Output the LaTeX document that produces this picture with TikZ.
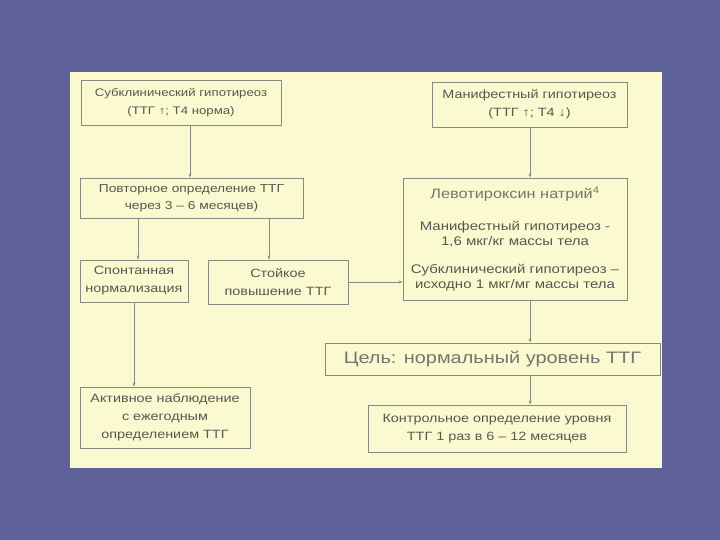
\documentclass[tikz,border=0pt]{standalone}
\usepackage{fontspec}
\setmainfont[FakeStretch=1.2]{Liberation Sans}
\usetikzlibrary{positioning, arrows.meta}

\definecolor{slide}{HTML}{5F6199}
\definecolor{paper}{HTML}{FBF9D0}
\definecolor{ink}{HTML}{58584F}
\definecolor{inklight}{HTML}{75756C}
\definecolor{wire}{HTML}{8A8A82}

\begin{document}
\begin{tikzpicture}[
    x=1pt, y=-1pt,
    box/.style={draw=wire, line width=0.9pt, fill=paper, text=ink, align=center,
        inner sep=2pt, font=\fontsize{12}{18}\selectfont},
    arr/.style={draw=wire, line width=0.9pt, -{Stealth[length=4pt, width=3pt]}}
]
    % Slide background and panel
    \fill[slide] (0,0) rectangle (720,540);
    \fill[paper] (70,72) rectangle (662,468);

    % Top row
    \node[box, minimum width=200pt, minimum height=45pt,
        font=\fontsize{11}{18}\selectfont] (subclin) at (181,102.5)
        {Субклинический гипотиреоз\\(ТТГ ↑; Т4 норма)};
    \node[box, minimum width=195pt, minimum height=45pt] (manif) at (529.5,104.5)
        {Манифестный гипотиреоз\\(ТТГ ↑; Т4 ↓)};

    % Second row
    \node[box, minimum width=223pt, minimum height=40pt,
        font=\fontsize{11.5}{17}\selectfont] (repeat) at (191.5,198)
        {Повторное определение ТТГ\\через 3 – 6 месяцев)};
    \node[box, minimum width=224pt, minimum height=122pt,
        font=\fontsize{12.5}{15.5}\selectfont] (levo) at (515,239)
        {{\fontsize{13.6}{15}\selectfont\color{inklight}Левотироксин натрий\textsuperscript{4}}\\[16pt]
         Манифестный гипотиреоз -\\1,6 мкг/кг массы тела\\[12pt]
         Субклинический гипотиреоз –\\исходно 1 мкг/мг массы тела};

    % Third row
    \node[box, minimum width=108pt, minimum height=42pt] (spont) at (134,281)
        {Спонтанная\\нормализация};
    \node[box, minimum width=140pt, minimum height=44pt] (persist) at (278,282)
        {Стойкое\\повышение ТТГ};

    % Goal and follow-up
    \node[box, minimum width=335pt, minimum height=32pt, text=inklight,
        font=\fontsize{16.6}{20}\selectfont] (goal) at (492.5,359)
        {Цель: нормальный уровень ТТГ};
    \node[box, minimum width=170pt, minimum height=61pt] (watch) at (165,417.5)
        {Активное наблюдение\\с ежегодным\\определением ТТГ};
    \node[box, minimum width=258pt, minimum height=47pt] (control) at (497,428.5)
        {Контрольное определение уровня\\ТТГ 1 раз в 6 – 12 месяцев};

    % Columns for the vertical connectors
    \coordinate (colA) at (190,0);
    \coordinate (colB) at (138,0);
    \coordinate (colC) at (269,0);
    \coordinate (colD) at (530,0);

    % Connectors
    \draw[arr] (subclin.south -| colA) -- (repeat.north -| colA);
    \draw[arr] (repeat.south -| colB) -- (spont.north -| colB);
    \draw[arr] (repeat.south -| colC) -- (persist.north -| colC);
    \draw[arr] (spont.south) -- (watch.north -| spont.south);
    \draw[arr] (persist.east) -- (persist.east -| levo.west);
    \draw[arr] (manif.south -| colD) -- (levo.north -| colD);
    \draw[arr] (levo.south -| colD) -- (goal.north -| colD);
    \draw[arr] (goal.south -| colD) -- (control.north -| colD);
\end{tikzpicture}
\end{document}
